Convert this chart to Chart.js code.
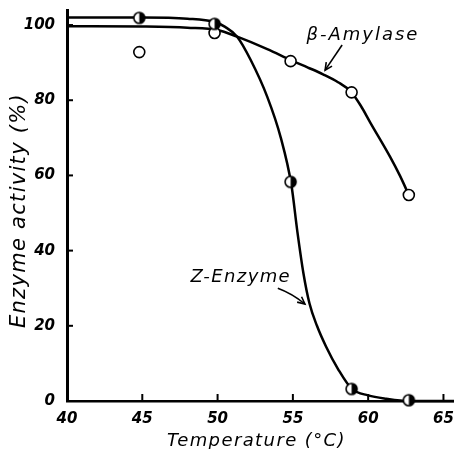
<!DOCTYPE html>
<html>
<head>
<meta charset="utf-8">
<script src="https://cdn.jsdelivr.net/npm/chart.js@4/dist/chart.umd.min.js"></script>
<style>
  html, body { margin: 0; padding: 0; background: #fff; overflow: hidden; }
  #wrap { width: 454px; height: 449px; }
</style>
</head>
<body>
<div id="wrap"><canvas id="chart"></canvas></div>
<script>
// measured points (temperature, % activity)
const temps = [44.8, 49.8, 54.85, 58.9, 62.7];
const betaAmylase = [92.8, 97.9, 90.4, 82.1, 54.8];
const zEnzyme = [101.9, 100.3, 58.3, 3.2, 0.2];

// hand drawn curves
const betaCurveX = [40, 45, 48, 50, 51.3, 53.3, 54.9, 56, 57, 58, 58.85, 59.5, 60.15, 61.45, 62.1, 62.7];
const betaCurveY = [99.7, 99.6, 99.3, 98.7, 96.9, 93.6, 90.6, 88.7, 86.9, 84.8, 82.3, 78.6, 74.0, 65.0, 60.0, 54.8];
const zCurveX = [40, 45, 48, 49.8, 50.5, 51.3, 52.2, 53.3, 54.2, 54.9, 55.3, 55.7, 56.1, 56.6, 57.2, 58, 58.9, 60, 61.2, 62.7, 65.7];
const zCurveY = [102, 102, 101.7, 100.8, 99.5, 96.9, 90.7, 80.9, 70, 57.5, 45, 34, 26, 20, 14.5, 8.5, 3.3, 1.5, 0.6, 0, 0];

const xTicks = [40, 45, 50, 55, 60, 65];
const yTicks = [0, 20, 40, 60, 80, 100];

const FONT = '"DejaVu Sans"';

function pairs(xs, ys) {
    return xs.map((x, i) => ({x: x, y: ys[i]}));
}

// half white / half black marker
function halfDot() {
    const c = document.createElement('canvas');
    c.width = c.height = 15;
    const g = c.getContext('2d');
    g.beginPath();
    g.arc(7.5, 7.5, 5.5, 0, Math.PI * 2);
    g.fillStyle = '#fff';
    g.fill();
    g.beginPath();
    g.arc(7.5, 7.5, 5.5, -Math.PI / 2, Math.PI / 2);
    g.closePath();
    g.fillStyle = '#000';
    g.fill();
    g.beginPath();
    g.arc(7.5, 7.5, 5.5, 0, Math.PI * 2);
    g.lineWidth = 1.6;
    g.strokeStyle = '#000';
    g.stroke();
    return c;
}

function arrowHead(ctx, fx, fy, tx, ty) {
    const a = Math.atan2(ty - fy, tx - fx);
    const len = 8, spread = 0.45;
    ctx.beginPath();
    ctx.moveTo(tx - len * Math.cos(a - spread), ty - len * Math.sin(a - spread));
    ctx.lineTo(tx, ty);
    ctx.lineTo(tx - len * Math.cos(a + spread), ty - len * Math.sin(a + spread));
    ctx.stroke();
}

// inward ticks, axis titles, labels and arrows
const extras = {
    id: 'extras',
    afterDraw(chart) {
        const ctx = chart.ctx;
        const xs = chart.scales.x, ys = chart.scales.y;
        const area = chart.chartArea;
        const px = v => xs.getPixelForValue(v);
        const py = v => ys.getPixelForValue(v);
        ctx.save();
        ctx.strokeStyle = '#000';
        ctx.fillStyle = '#000';
        ctx.lineWidth = 2;
        xTicks.forEach(v => {
            if (v === 40) return;
            ctx.beginPath();
            ctx.moveTo(px(v), area.bottom);
            ctx.lineTo(px(v), area.bottom - 7);
            ctx.stroke();
        });
        yTicks.forEach(v => {
            if (v === 0) return;
            ctx.beginPath();
            ctx.moveTo(area.left, py(v));
            ctx.lineTo(area.left + 6, py(v));
            ctx.stroke();
        });

        // axis titles
        ctx.textAlign = 'center';
        ctx.textBaseline = 'middle';
        ctx.font = 'italic 18px ' + FONT;
        ctx.letterSpacing = '1.4px';
        ctx.fillText('Temperature (°C)', (area.left + area.right) / 2 - 4, area.bottom + 40);
        ctx.save();
        ctx.translate(area.left - 47, (area.top + area.bottom) / 2 + 5);
        ctx.rotate(-Math.PI / 2);
        ctx.font = 'italic 21px ' + FONT;
        ctx.letterSpacing = '1.3px';
        ctx.fillText('Enzyme activity (%)', 0, 0);
        ctx.restore();

        // curve labels
        ctx.textAlign = 'left';
        ctx.textBaseline = 'alphabetic';
        ctx.font = 'italic 18px ' + FONT;
        ctx.letterSpacing = '2px';
        ctx.fillText('β-Amylase', px(55.9), py(96.0));
        ctx.letterSpacing = '1.4px';
        ctx.fillText('Z-Enzyme', px(48.2), py(31.6));
        ctx.letterSpacing = '0px';

        ctx.lineWidth = 1.6;
        ctx.beginPath();
        ctx.moveTo(px(58.27), py(94.7));
        ctx.lineTo(px(57.14), py(88.0));
        ctx.stroke();
        arrowHead(ctx, px(58.27), py(94.7), px(57.14), py(88.0));

        ctx.beginPath();
        ctx.moveTo(px(54.0), py(30.0));
        ctx.quadraticCurveTo(px(54.95), py(28.6), px(55.8), py(25.8));
        ctx.stroke();
        arrowHead(ctx, px(54.95), py(28.6), px(55.8), py(25.8));
        ctx.restore();
    }
};

new Chart(document.getElementById('chart'), {
    type: 'scatter',
    data: {
        datasets: [{
            data: pairs(temps, zEnzyme),
            pointStyle: halfDot(),
            pointRadius: 6,
            clip: false,
            order: 0
        }, {
            data: pairs(temps, betaAmylase),
            pointStyle: 'circle',
            pointRadius: 5.5,
            backgroundColor: '#fff',
            borderColor: '#000',
            borderWidth: 1.6,
            clip: false,
            order: 0
        }, {
            data: pairs(betaCurveX, betaCurveY),
            showLine: true,
            borderColor: '#000',
            borderWidth: 2.5,
            pointRadius: 0,
            cubicInterpolationMode: 'monotone',
            order: 1
        }, {
            data: pairs(zCurveX, zCurveY),
            showLine: true,
            borderColor: '#000',
            borderWidth: 2.5,
            pointRadius: 0,
            cubicInterpolationMode: 'monotone',
            clip: false,
            order: 1
        }]
    },
    options: {
        responsive: true,
        maintainAspectRatio: false,
        animation: false,
        layout: { autoPadding: false, padding: { top: 10, right: 0, left: 0, bottom: 0 } },
        plugins: {
            legend: { display: false },
            tooltip: { enabled: false }
        },
        scales: {
            x: {
                type: 'linear',
                min: 40,
                max: 65.7,
                grid: { display: false },
                border: { display: true, color: '#000', width: 2.5 },
                ticks: {
                    color: '#000',
                    padding: 1,
                    maxRotation: 0,
                    font: { family: FONT, size: 15, style: 'italic', weight: 'bold' }
                },
                afterBuildTicks: s => { s.ticks = xTicks.map(v => ({value: v})); },
                afterFit: s => { s.height = 48; s.paddingLeft = 0; s.paddingRight = 0; }
            },
            y: {
                min: 0,
                max: 104,
                grid: { display: false },
                border: { display: true, color: '#000', width: 3 },
                ticks: {
                    color: '#000',
                    padding: 4,
                    font: { family: FONT, size: 15, style: 'italic', weight: 'bold' }
                },
                afterBuildTicks: s => { s.ticks = yTicks.map(v => ({value: v})); },
                afterFit: s => { s.width = 67; s.paddingTop = 0; s.paddingBottom = 0; s.paddingLeft = 0; s.paddingRight = 0; }
            }
        }
    },
    plugins: [extras]
});
</script>
</body>
</html>
